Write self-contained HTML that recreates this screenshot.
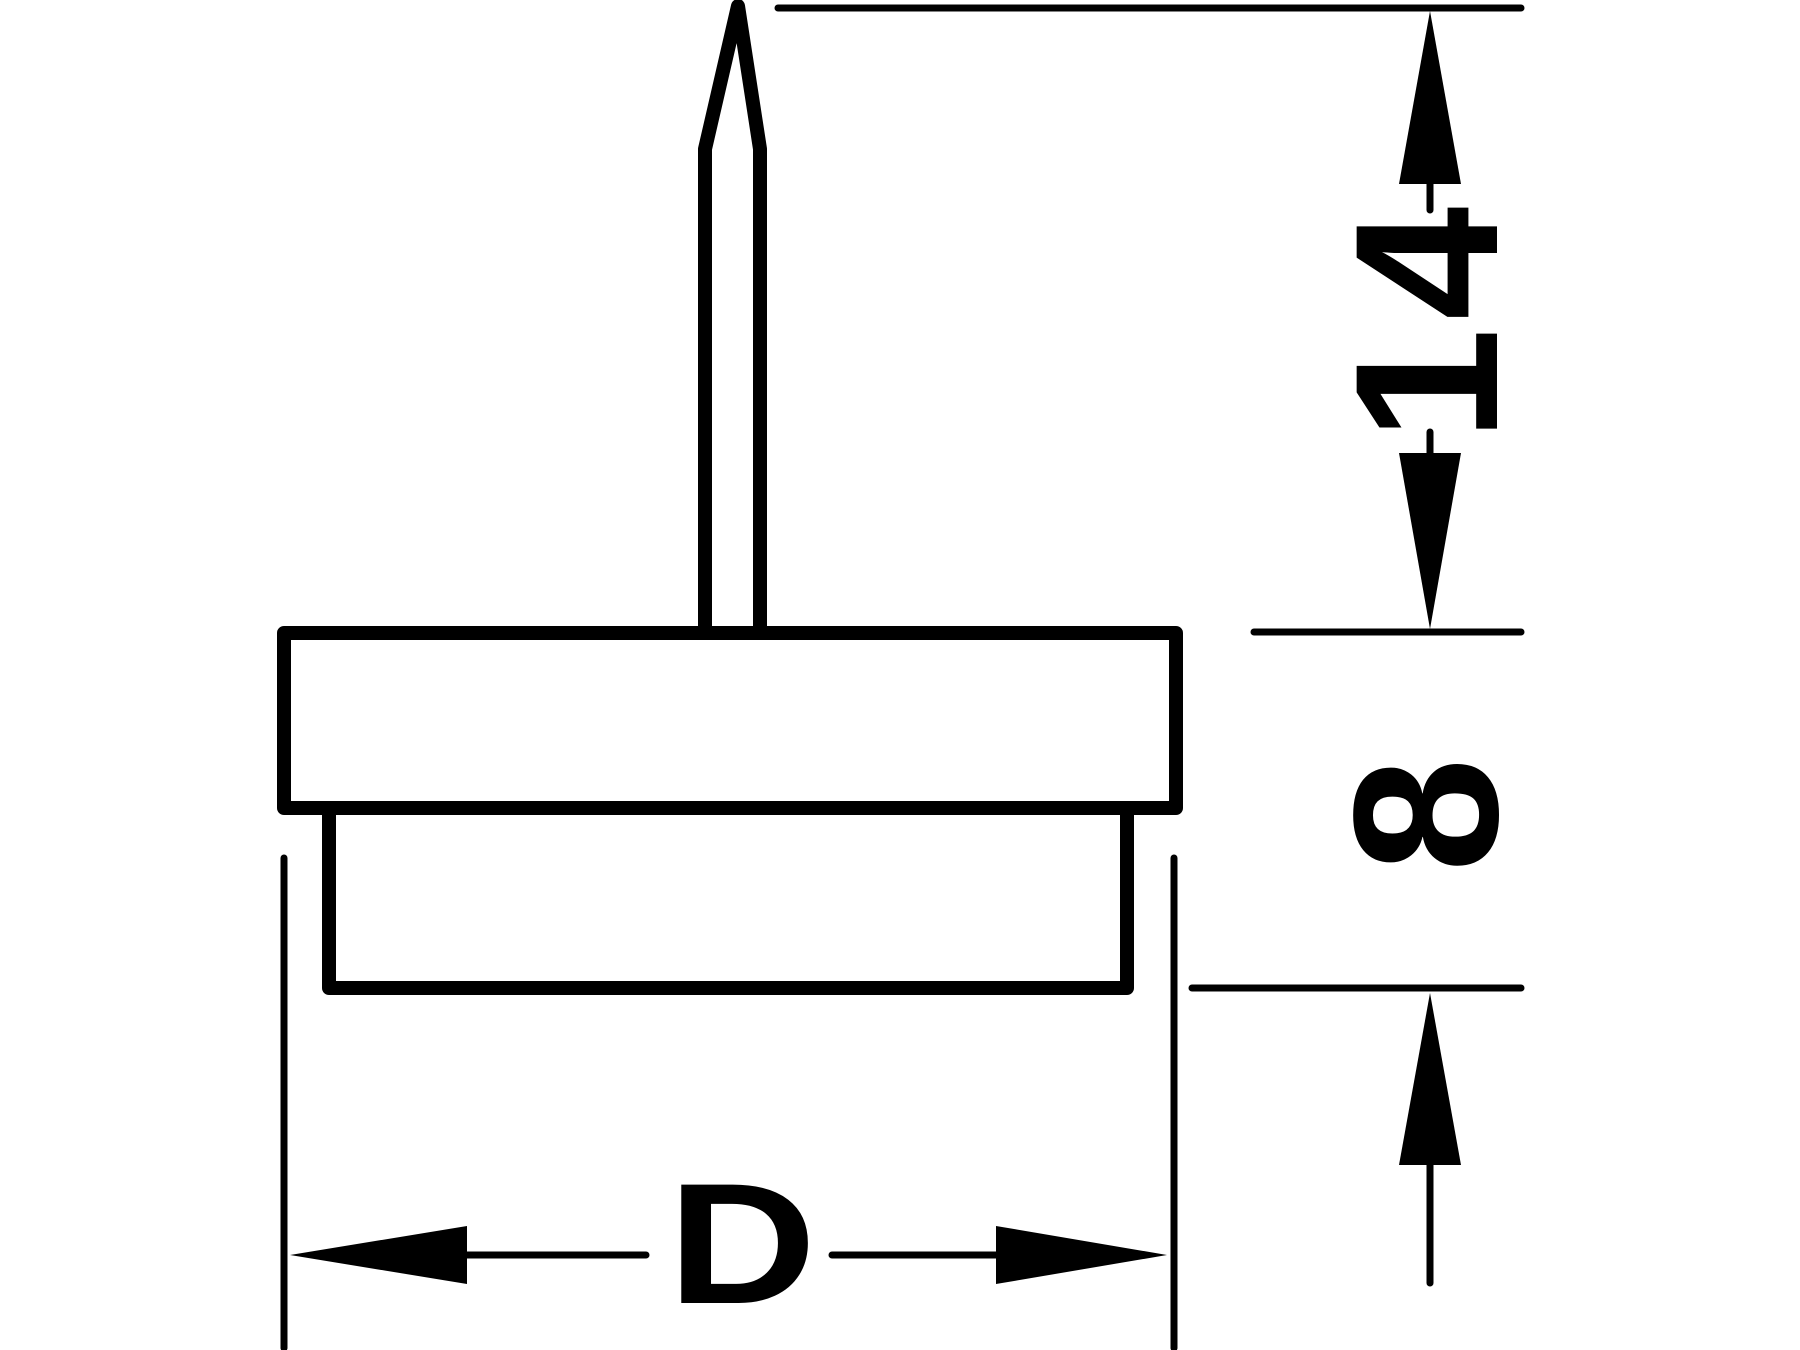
<!DOCTYPE html>
<html><head><meta charset="utf-8"><style>html,body{margin:0;padding:0;background:#fff}svg{display:block}</style></head>
<body>
<svg width="1800" height="1350" viewBox="0 0 1800 1350" xmlns="http://www.w3.org/2000/svg">
<g fill="none" stroke="#000" stroke-linecap="round" stroke-linejoin="round">
<!-- pin -->
<path d="M705 629 V149 L738 6 L760 149 V629" stroke-width="14"/>
<!-- plates -->
<rect x="284" y="633" width="892" height="175" stroke-width="14"/>
<path d="M329 808 V988 H1127 V808" stroke-width="14"/>
<!-- D extension lines -->
<line x1="284" y1="858" x2="284" y2="1348" stroke-width="7"/>
<line x1="1174" y1="858" x2="1174" y2="1348" stroke-width="7"/>
<!-- D dimension -->
<line x1="467" y1="1255" x2="646" y2="1255" stroke-width="7"/>
<line x1="832" y1="1255" x2="996" y2="1255" stroke-width="7"/>
<!-- right extension lines -->
<line x1="778" y1="8" x2="1521" y2="8" stroke-width="7"/>
<line x1="1254" y1="632" x2="1521" y2="632" stroke-width="7"/>
<line x1="1192" y1="988" x2="1521" y2="988" stroke-width="7"/>
<!-- vertical dims -->
<line x1="1430" y1="184" x2="1430" y2="210" stroke-width="7"/>
<line x1="1430" y1="432" x2="1430" y2="453" stroke-width="7"/>
<line x1="1430" y1="1165" x2="1430" y2="1283" stroke-width="7"/>
</g>
<g fill="#000">
<polygon points="290,1255 467,1226 467,1284"/>
<polygon points="1167,1255 996,1226 996,1284"/>
<polygon points="1430,11 1399,184 1461,184"/>
<polygon points="1430,629 1399,453 1461,453"/>
<polygon points="1430,993 1399,1165 1461,1165"/>
</g>
<g font-family="Liberation Sans, sans-serif" font-weight="bold" fill="#000">
<text transform="translate(742,1303) scale(1.2,1)" font-size="172" text-anchor="middle">D</text>
<text transform="translate(1427,320) rotate(-90)" font-size="204" text-anchor="middle" dominant-baseline="central" letter-spacing="8">14</text>
<text transform="translate(1426,815) rotate(-90)" font-size="206" text-anchor="middle" dominant-baseline="central">8</text>
</g>
</svg>
</body></html>
